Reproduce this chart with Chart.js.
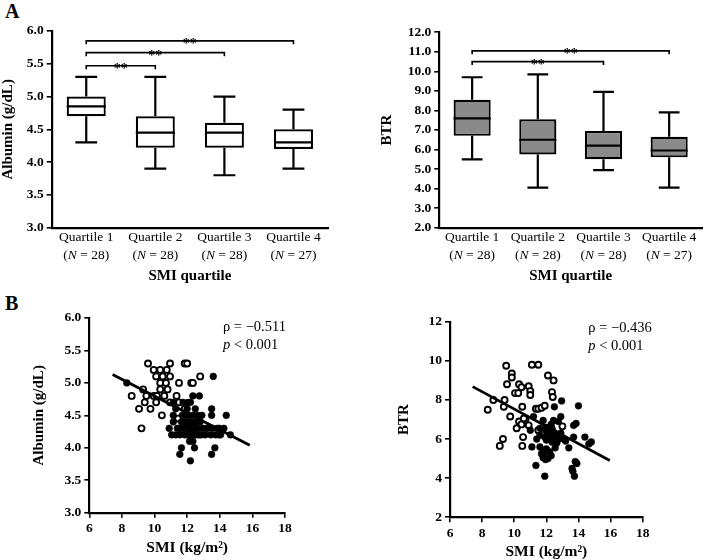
<!DOCTYPE html>
<html>
<head>
<meta charset="utf-8">
<script src="https://cdn.jsdelivr.net/npm/chart.js@4.4.1/dist/chart.umd.min.js"></script>
<style>
  body { margin: 0; background: #fff; width: 709px; height: 560px; position: relative; overflow: hidden; font-family: "Liberation Serif", serif; }
  .panel { position: absolute; }
  .letter { position: absolute; font-weight: bold; font-size: 20px; line-height: 1; color: #000; }
</style>
</head>
<body>
<div class="letter" style="left:5px;top:1px">A</div>
<div class="letter" style="left:5px;top:293px">B</div>
<div class="panel" style="left:0;top:0;width:340px;height:290px"><canvas id="boxAlb"></canvas></div>
<div class="panel" style="left:355px;top:0;width:354px;height:290px"><canvas id="boxBtr"></canvas></div>
<div class="panel" style="left:0;top:290px;width:340px;height:270px"><canvas id="scatAlb"></canvas></div>
<div class="panel" style="left:355px;top:290px;width:354px;height:270px"><canvas id="scatBtr"></canvas></div>
<script>
const quartiles = ["Quartile 1", "Quartile 2", "Quartile 3", "Quartile 4"];
const quartileN = [28, 28, 28, 27];

// albumin by SMI quartile (g/dL)
const albMin = [4.3, 3.9, 3.8, 3.9];
const albQ1 = [4.7, 4.22, 4.22, 4.2];
const albMedian = [4.85, 4.45, 4.45, 4.3];
const albQ3 = [5.0, 4.7, 4.6, 4.5];
const albMax = [5.3, 5.3, 5.0, 4.8];
const albBrackets = [[0, 1, 5.47], [0, 2, 5.67], [0, 3, 5.85]];

// BTR by SMI quartile
const btrMin = [5.5, 4.05, 4.95, 4.05];
const btrQ1 = [6.7, 5.75, 5.5, 5.6];
const btrMedian = [7.6, 6.5, 6.2, 5.95];
const btrQ3 = [8.55, 7.55, 6.95, 6.65];
const btrMax = [9.7, 9.85, 8.95, 7.9];
const btrBrackets = [[0, 2, 10.5], [0, 3, 11.05]];

// SMI vs albumin, [SMI, albumin]
const albOpen = [
  [9.6, 5.3], [10.95, 5.3], [11.85, 5.3], [12.0, 5.3],
  [9.95, 5.2], [10.35, 5.2], [10.75, 5.2],
  [10.1, 5.1], [10.5, 5.1], [10.95, 5.1], [12.8, 5.1],
  [10.35, 5.0], [10.7, 5.0], [11.5, 5.0], [12.25, 5.0], [12.35, 5.0],
  [9.3, 4.9], [10.35, 4.9], [10.8, 4.9],
  [8.6, 4.8], [9.5, 4.8], [9.95, 4.8], [10.15, 4.8], [10.6, 4.8], [11.35, 4.8],
  [9.4, 4.7], [10.1, 4.7], [10.95, 4.7], [11.5, 4.7],
  [9.05, 4.6], [9.75, 4.6], [11.85, 4.6],
  [10.45, 4.5], [11.45, 4.45],
  [9.2, 4.3], [12.15, 4.3]
];
const albFilled = [
  [8.3, 5.0], [13.6, 5.1],
  [12.35, 4.8], [12.75, 4.8],
  [11.15, 4.7], [11.75, 4.7], [12.05, 4.7], [12.2, 4.7],
  [13.5, 4.6], [12.0, 4.6], [11.3, 4.6], [12.5, 4.6],
  [11.15, 4.5], [11.7, 4.5], [11.95, 4.5], [12.1, 4.5], [12.35, 4.5], [12.65, 4.5], [12.9, 4.5], [13.5, 4.5], [14.4, 4.5],
  [11.15, 4.4], [11.65, 4.4], [11.9, 4.4], [12.15, 4.4], [12.3, 4.4], [12.55, 4.4], [12.8, 4.4],
  [10.9, 4.3], [11.4, 4.3], [11.55, 4.3], [11.7, 4.3], [11.85, 4.3], [12.05, 4.3], [12.35, 4.3], [12.5, 4.3],
  [12.65, 4.3], [12.95, 4.3], [13.15, 4.3], [13.25, 4.3], [13.55, 4.3], [13.85, 4.3], [14.0, 4.3], [14.25, 4.3],
  [11.05, 4.2], [11.3, 4.2], [11.55, 4.2], [11.85, 4.2], [12.0, 4.2], [12.15, 4.2], [12.3, 4.2], [12.45, 4.2],
  [12.6, 4.2], [12.75, 4.2], [12.85, 4.2], [13.1, 4.2], [13.45, 4.2], [13.75, 4.2], [13.95, 4.2], [14.05, 4.2], [14.65, 4.2],
  [12.15, 4.1], [12.35, 4.1],
  [11.65, 4.0], [12.45, 4.0], [13.7, 4.0],
  [11.55, 3.9], [13.5, 3.9],
  [12.2, 3.8]
];
const albFit = [[7.43, 5.13], [15.84, 4.04]];

// SMI vs BTR, [SMI, BTR]
const btrOpen = [
  [9.5, 9.75], [9.85, 9.35], [9.85, 9.15], [11.1, 9.8], [11.5, 9.8],
  [9.55, 8.8], [10.3, 8.8], [10.9, 8.7], [10.45, 8.65], [11.0, 8.45], [11.0, 8.25], [10.05, 8.35], [10.25, 8.35],
  [9.4, 8.0], [8.7, 8.0], [8.35, 7.5], [9.35, 7.65], [10.5, 7.65], [11.35, 7.55], [11.5, 7.55], [11.7, 7.6], [11.9, 7.7],
  [9.75, 7.15], [10.3, 6.9], [10.45, 6.75], [10.15, 6.55], [10.9, 6.7], [10.7, 7.0], [10.6, 7.05],
  [9.1, 5.65], [9.3, 6.0], [10.5, 5.65], [10.55, 6.1],
  [12.1, 9.25], [12.45, 9.0], [12.35, 8.4], [12.4, 8.15], [13.0, 6.65], [11.5, 6.45], [11.95, 5.35]
];
const btrFilled = [
  [12.95, 7.95], [14.0, 7.7], [12.5, 7.65], [11.2, 7.15], [12.9, 7.15], [12.45, 6.95], [12.75, 6.9], [11.8, 6.95],
  [13.7, 6.7], [13.85, 6.8], [11.0, 6.45], [11.6, 6.55], [12.0, 6.6], [12.3, 6.75],
  [11.95, 6.45], [12.25, 6.45], [12.45, 6.35], [12.65, 6.25], [12.1, 6.3], [12.35, 6.55], [12.9, 6.3],
  [11.4, 6.0], [11.6, 6.2], [11.9, 6.1], [12.2, 6.1], [12.5, 6.1], [12.8, 6.0], [13.1, 6.0], [13.2, 5.9],
  [12.0, 5.95], [12.35, 5.85], [12.65, 5.8], [12.55, 5.55],
  [13.7, 6.1], [14.4, 6.1], [14.8, 5.85], [14.65, 5.75],
  [11.6, 5.6], [12.0, 5.5], [11.8, 5.35], [12.2, 5.35], [11.7, 5.25],
  [11.8, 5.05], [12.1, 5.0], [11.95, 4.95], [12.3, 5.15],
  [13.4, 5.55], [11.1, 5.6],
  [13.8, 4.85], [13.9, 4.75], [13.6, 4.5], [13.65, 4.35], [13.75, 4.1],
  [11.35, 4.65], [11.9, 4.1]
];
const btrFit = [[7.41, 8.68], [15.95, 4.9]];

const serif = '"Liberation Serif", "Times New Roman", serif';
const tickFont = { family: serif, size: 13.5, weight: "bold" };
const titleFont = { family: serif, size: 15, weight: "bold", lineHeight: 1 };

// whiskers, medians, significance brackets and two-line quartile labels
const boxExtras = {
  id: "boxExtras",
  afterDatasetsDraw(chart) {
    const opts = chart.options.plugins.boxExtras;
    const { ctx } = chart;
    const x = chart.scales.x, y = chart.scales.y;
    const bars = chart.getDatasetMeta(0).data;
    ctx.save();
    ctx.strokeStyle = "#000";
    ctx.fillStyle = "#000";
    ctx.lineWidth = 2.2;
    bars.forEach((bar, i) => {
      const half = bar.width / 2, cap = bar.width * 0.28;
      const yLo = y.getPixelForValue(opts.lo[i]);
      const yHi = y.getPixelForValue(opts.hi[i]);
      const yMed = y.getPixelForValue(opts.med[i]);
      const yQ1 = y.getPixelForValue(opts.q1[i]);
      const yQ3 = y.getPixelForValue(opts.q3[i]);
      ctx.beginPath();
      ctx.moveTo(bar.x, yQ3); ctx.lineTo(bar.x, yHi);
      ctx.moveTo(bar.x - cap, yHi); ctx.lineTo(bar.x + cap, yHi);
      ctx.moveTo(bar.x, yQ1); ctx.lineTo(bar.x, yLo);
      ctx.moveTo(bar.x - cap, yLo); ctx.lineTo(bar.x + cap, yLo);
      ctx.moveTo(bar.x - half, yMed); ctx.lineTo(bar.x + half, yMed);
      ctx.stroke();
    });
    ctx.lineWidth = 1.6;
    ctx.font = "bold 14px " + serif;
    ctx.textAlign = "center";
    ctx.textBaseline = "alphabetic";
    opts.brackets.forEach(([a, b, v]) => {
      const xa = x.getPixelForValue(a), xb = x.getPixelForValue(b), yy = y.getPixelForValue(v);
      ctx.beginPath();
      ctx.moveTo(xa, yy + 3.5); ctx.lineTo(xa, yy); ctx.lineTo(xb, yy); ctx.lineTo(xb, yy + 3.5);
      ctx.stroke();
      ctx.fillText("**", (xa + xb) / 2, yy + 7.5);
    });
    // quartile labels, with italic N
    ctx.textBaseline = "middle";
    quartiles.forEach((q, i) => {
      const cx = x.getPixelForTick(i);
      ctx.font = "13.5px " + serif;
      ctx.textAlign = "center";
      ctx.fillText(q, cx, x.top + 10);
      const parts = [["(", ""], ["N", "italic "], [" = " + quartileN[i] + ")", ""]];
      let w = 0;
      parts.forEach(([t, st]) => { ctx.font = st + "13.5px " + serif; w += ctx.measureText(t).width; });
      let px = cx - w / 2;
      ctx.textAlign = "left";
      parts.forEach(([t, st]) => {
        ctx.font = st + "13.5px " + serif;
        ctx.fillText(t, px, x.top + 28);
        px += ctx.measureText(t).width;
      });
    });
    ctx.restore();
  }
};

// rho / p annotation in the scatter panels
const corrNote = {
  id: "corrNote",
  afterDraw(chart) {
    const opts = chart.options.plugins.corrNote;
    const { ctx, chartArea } = chart;
    const x0 = chartArea.right - opts.dx;
    ctx.save();
    ctx.fillStyle = "#000";
    ctx.textAlign = "left";
    ctx.textBaseline = "middle";
    ctx.font = "14.5px " + serif;
    ctx.fillText("\u03c1 = \u2212" + opts.rho, x0, chartArea.top + opts.dy);
    ctx.font = "italic 14.5px " + serif;
    ctx.fillText("p", x0, chartArea.top + opts.dy + 18);
    const pw = ctx.measureText("p").width;
    ctx.font = "14.5px " + serif;
    ctx.fillText(" < 0.001", x0 + pw, chartArea.top + opts.dy + 18);
    ctx.restore();
  }
};

function yAxis(min, max, step, digits, title, width) {
  return {
    min: min, max: max,
    ticks: { stepSize: step, color: "#000", font: tickFont, padding: 3, callback: v => v.toFixed(digits) },
    grid: { drawOnChartArea: false, color: "#000", lineWidth: 1.6, tickLength: 5 },
    border: { color: "#000", width: 2.2 },
    title: { display: true, text: title, color: "#000", font: titleFont, padding: 0 },
    afterFit: s => { s.width = width; }
  };
}

function boxChart(id, lo, q1, med, q3, hi, brackets, fill, yCfg, pad, xHeight) {
  new Chart(document.getElementById(id), {
    type: "bar",
    data: {
      labels: quartiles,
      datasets: [{
        data: q1.map((v, i) => [v, q3[i]]),
        backgroundColor: fill,
        borderColor: "#000",
        borderWidth: 2.2,
        borderSkipped: false,
        barPercentage: 0.565,
        categoryPercentage: 1
      }]
    },
    options: {
      responsive: true, maintainAspectRatio: false, animation: false,
      layout: { padding: pad },
      plugins: {
        legend: { display: false }, tooltip: { enabled: false },
        boxExtras: { lo: lo, q1: q1, med: med, q3: q3, hi: hi, brackets: brackets }
      },
      scales: {
        x: {
          grid: { display: false },
          border: { color: "#000", width: 2.2 },
          ticks: { display: false },
          title: { display: true, text: "SMI quartile", color: "#000", font: titleFont, padding: 0 },
          afterFit: s => { s.height = xHeight; }
        },
        y: yCfg
      }
    },
    plugins: [boxExtras]
  });
}

function scatterChart(id, open, filled, fit, yCfg, pad, xHeight, note) {
  const pts = a => a.map(([x, y]) => ({ x: x, y: y }));
  new Chart(document.getElementById(id), {
    type: "scatter",
    data: {
      datasets: [
        { type: "line", data: pts(fit), borderColor: "#000", borderWidth: 2.8, pointRadius: 0, fill: false },
        { data: pts(filled), pointRadius: 3.4, backgroundColor: "#000", borderColor: "#000", borderWidth: 0.5 },
        { data: pts(open), pointRadius: 3, backgroundColor: "#fff", borderColor: "#000", borderWidth: 1.9 }
      ]
    },
    options: {
      responsive: true, maintainAspectRatio: false, animation: false,
      layout: { padding: pad },
      plugins: { legend: { display: false }, tooltip: { enabled: false }, corrNote: note },
      scales: {
        x: {
          type: "linear", min: 6, max: 18,
          ticks: { stepSize: 2, color: "#000", font: tickFont, padding: 3 },
          grid: { drawOnChartArea: false, color: "#000", lineWidth: 1.6, tickLength: 5 },
          border: { color: "#000", width: 2.2 },
          title: { display: true, text: "SMI (kg/m\u00b2)", color: "#000", font: Object.assign({}, titleFont, { size: 15.5 }), padding: 0 },
          afterFit: s => { s.height = xHeight; }
        },
        y: yCfg
      }
    },
    plugins: [corrNote]
  });
}

boxChart("boxAlb", albMin, albQ1, albMedian, albQ3, albMax, albBrackets, "#fff",
  yAxis(3, 6, 0.5, 1, "Albumin (g/dL)", 51.2),
  { left: 0.5, top: 31, right: 12, bottom: 6 }, 56.3);

boxChart("boxBtr", btrMin, btrQ1, btrMedian, btrQ3, btrMax, btrBrackets, "#8a8a8a",
  yAxis(2, 12, 1, 1, "BTR", 59.6),
  { left: 24.7, top: 32.3, right: 7, bottom: 6.3 }, 56);

scatterChart("scatAlb", albOpen, albFilled, albFit,
  yAxis(3, 6, 0.5, 1, "Albumin (g/dL)", 58),
  { left: 31.3, top: 28, right: 55, bottom: 4.7 }, 42.6,
  { rho: "0.511", dx: 62, dy: 9 });

scatterChart("scatBtr", btrOpen, btrFilled, btrFit,
  yAxis(2, 12, 2, 0, "BTR", 53.7),
  { left: 41.3, top: 31.7, right: 66.3, bottom: 0 }, 42.7,
  { rho: "0.436", dx: 54.4, dy: 6 });
</script>
</body>
</html>
